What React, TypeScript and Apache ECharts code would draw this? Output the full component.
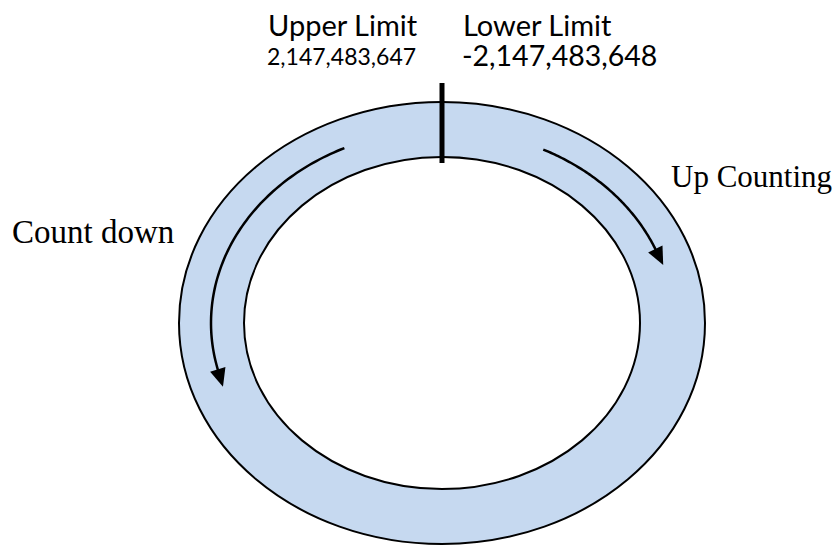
import React, { useEffect, useRef } from "react";
import * as echarts from "echarts";

// Labels of the diagram
const limitTitles = ["Upper Limit", "Lower Limit"];
const limitValues = ["2,147,483,647", "-2,147,483,648"];
const directionLabels = ["Up Counting", "Count down"];
// arc angles (degrees, parametric on the middle ellipse): [start, end]
const upArc = [-64, -22];
const downArc = [-115, -194.5];

const CX = 442;
const CY = 323;
const OUTER = { rx: 263, ry: 221 };
const INNER = { rx: 198, ry: 166 };
const MID = { rx: 231, ry: 193 };
const BAND = "#c6d9f0";

function arcPoints(t0: number, t1: number, n = 80): number[][] {
  const pts: number[][] = [];
  for (let i = 0; i <= n; i++) {
    const t = ((t0 + ((t1 - t0) * i) / n) * Math.PI) / 180;
    pts.push([CX + MID.rx * Math.cos(t), CY + MID.ry * Math.sin(t)]);
  }
  return pts;
}

function arrowHead(pts: number[][], len = 18, half = 8): number[][] {
  const [x1, y1] = pts[pts.length - 2];
  const [x2, y2] = pts[pts.length - 1];
  const dx = x2 - x1;
  const dy = y2 - y1;
  const d = Math.hypot(dx, dy);
  const ux = dx / d;
  const uy = dy / d;
  const bx = x2 - ux * 2;
  const by = y2 - uy * 2;
  return [
    [bx + ux * len, by + uy * len],
    [bx - uy * half, by + ux * half],
    [bx + uy * half, by - ux * half],
  ];
}

export default function App() {
  const ref = useRef<HTMLDivElement>(null);
  useEffect(() => {
    if (!ref.current) return;
    const chart = echarts.init(ref.current, null, { renderer: "svg" });
    const up = arcPoints(upArc[0], upArc[1]);
    const down = arcPoints(downArc[0], downArc[1]);
    const sans = "Lato";
    const serif = "Liberation Serif";
    const txt = (text: string, x: number, y: number, size: number, family: string) => ({
      type: "text",
      x,
      y,
      style: {
        text,
        fontSize: size,
        fontFamily: family,
        lineHeight: size,
        fill: "#000",
        align: "left",
        verticalAlign: "middle",
        textAlign: "left",
        textVerticalAlign: "middle",
      },
    });
    chart.setOption({
      animation: false,
      graphic: {
        elements: [
          {
            type: "ellipse",
            shape: { cx: CX, cy: CY, rx: OUTER.rx, ry: OUTER.ry },
            style: { fill: BAND, stroke: "#000", lineWidth: 2 },
          },
          {
            type: "ellipse",
            shape: { cx: CX, cy: CY, rx: INNER.rx, ry: INNER.ry },
            style: { fill: "#fff", stroke: "#000", lineWidth: 2 },
          },
          {
            type: "line",
            shape: { x1: CX, y1: 83, x2: CX, y2: 163 },
            style: { stroke: "#000", lineWidth: 5 },
          },
          {
            type: "polyline",
            shape: { points: up },
            style: { stroke: "#000", lineWidth: 2.5, fill: null },
          },
          { type: "polygon", shape: { points: arrowHead(up) }, style: { fill: "#000" } },
          {
            type: "polyline",
            shape: { points: down },
            style: { stroke: "#000", lineWidth: 2.5, fill: null },
          },
          { type: "polygon", shape: { points: arrowHead(down) }, style: { fill: "#000" } },
          txt(limitTitles[0], 268, 24, 29, sans),
          txt(limitValues[0], 267, 56, 23, sans),
          txt(limitTitles[1], 463, 24, 29, sans),
          txt(limitValues[1], 462, 55, 28.5, sans),
          txt(directionLabels[0], 671, 176, 31, serif),
          txt(directionLabels[1], 12, 232, 33, serif),
        ],
      },
    });
    return () => chart.dispose();
  }, []);
  return (
    <div
      ref={ref}
      style={{ position: "fixed", left: 0, top: 0, width: 838, height: 547, background: "#fff" }}
    />
  );
}
